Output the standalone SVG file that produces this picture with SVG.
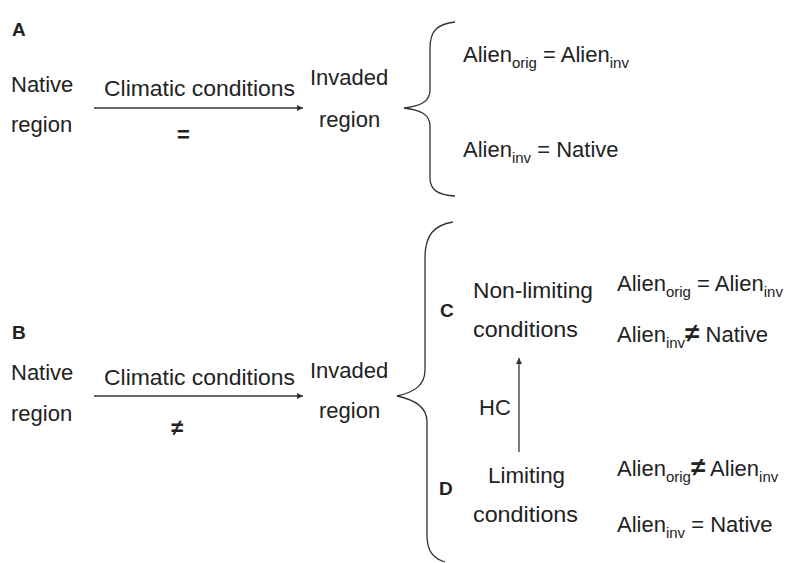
<svg xmlns="http://www.w3.org/2000/svg" width="792" height="563" viewBox="0 0 792 563">
<style>
text{font-family:"Liberation Sans",Arial,sans-serif;font-size:22px;fill:#222}
.lbl{font-weight:bold;font-size:19px}
.sub{font-size:15px}
.ne{font-weight:bold}
.ln{stroke:#333;stroke-width:1.3;fill:none}
</style>
<defs>
<marker id="ah" viewBox="0 0 10 10" refX="10" refY="5" markerWidth="8" markerHeight="6" markerUnits="userSpaceOnUse" orient="auto">
<path d="M0,0 L10,5 L0,10 z" fill="#333"/>
</marker>
</defs>
<rect width="792" height="563" fill="#fff"/>
<g id="connectors">
<line class="ln" x1="94" y1="108" x2="303" y2="108" marker-end="url(#ah)"/>
<line class="ln" x1="94" y1="396" x2="303" y2="396" marker-end="url(#ah)"/>
<line class="ln" x1="519" y1="452" x2="519" y2="358" marker-end="url(#ah)"/>
<path class="ln" d="M455,22 C438,24 430,30 430,48 L430,90 C430,102 420,106 404,108 C420,110 430,114 430,126 L430,178 C430,190 438,195 455,196"/>
<path class="ln" d="M453,222 C434,225 425,235 425,258 L425,370 C425,385 415,392 397,396 C415,400 427,407 427,422 L427,535 C427,550 432,558 445,562"/>
</g>
<g id="panelA"><text class="lbl" x="12" y="36">A</text></g>
<g id="nativeA"><text x="11" y="92">Native</text><text x="11" y="132">region</text></g>
<g id="climA"><text x="104" y="96" textLength="191" lengthAdjust="spacingAndGlyphs">Climatic conditions</text><text x="177" y="142" font-weight="bold">=</text></g>
<g id="invadedA"><text x="310" y="85">Invaded</text><text x="319" y="127">region</text></g>
<g id="resultsA">
<text x="463" y="62">Alien<tspan class="sub" dy="6">orig</tspan><tspan dy="-6"> = Alien</tspan><tspan class="sub" dy="6">inv</tspan></text>
<text x="463" y="157">Alien<tspan class="sub" dy="6">inv</tspan><tspan dy="-6"> = Native</tspan></text>
</g>
<g id="panelB"><text class="lbl" x="12" y="339">B</text></g>
<g id="nativeB"><text x="11" y="380">Native</text><text x="11" y="421">region</text></g>
<g id="climB"><text x="104" y="385" textLength="191" lengthAdjust="spacingAndGlyphs">Climatic conditions</text><text x="171" y="435" font-size="36" class="ne">≠</text></g>
<g id="invadedB"><text x="310" y="378">Invaded</text><text x="319" y="418">region</text></g>
<g id="panelC"><text class="lbl" x="440" y="317">C</text></g>
<g id="nonlimiting"><text x="473" y="298" textLength="120" lengthAdjust="spacingAndGlyphs">Non-limiting</text><text x="473" y="337" textLength="105" lengthAdjust="spacingAndGlyphs">conditions</text></g>
<g id="resultsC">
<text x="617" y="291">Alien<tspan class="sub" dy="6">orig</tspan><tspan dy="-6"> = Alien</tspan><tspan class="sub" dy="6">inv</tspan></text>
<text x="617" y="342">Alien<tspan class="sub" dy="6">inv</tspan><tspan dy="-6" class="ne" font-size="26">≠</tspan><tspan> Native</tspan></text>
</g>
<g id="hc"><text x="479" y="415">HC</text></g>
<g id="panelD"><text class="lbl" x="439" y="495">D</text></g>
<g id="limiting"><text x="488" y="483" textLength="77" lengthAdjust="spacingAndGlyphs">Limiting</text><text x="473" y="522" textLength="105" lengthAdjust="spacingAndGlyphs">conditions</text></g>
<g id="resultsD">
<text x="617" y="476">Alien<tspan class="sub" dy="6">orig</tspan><tspan dy="-6" class="ne" font-size="26">≠</tspan><tspan> Alien</tspan><tspan class="sub" dy="6">inv</tspan></text>
<text x="617" y="532">Alien<tspan class="sub" dy="6">inv</tspan><tspan dy="-6"> = Native</tspan></text>
</g>
</svg>
